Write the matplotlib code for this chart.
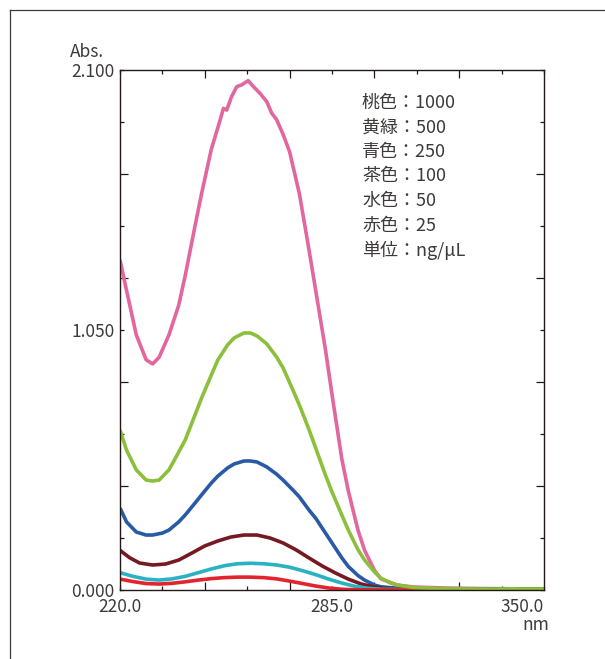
import matplotlib
matplotlib.use('Agg')
from matplotlib import pyplot as plt
from matplotlib.lines import Line2D
import numpy as np

plt.rcParams['font.family'] = ['Noto Sans CJK JP', 'DejaVu Sans']

# absorbance spectra
pink_nm = [220, 222, 225, 228, 230, 232, 235, 238, 240, 243, 245, 248, 250.7, 251.7,
           252.7, 254.2, 255.8, 257.3, 259.3, 260.9, 262.9, 265, 266.5, 268, 270, 272,
           275, 278, 280, 283, 285, 288, 290, 293, 295, 298, 300, 305, 310, 320, 330,
           340, 350]
pink_abs = [1.333, 1.21, 1.03, 0.93, 0.913, 0.94, 1.03, 1.15, 1.27, 1.47, 1.60, 1.78,
            1.898, 1.945, 1.938, 1.992, 2.033, 2.04, 2.057, 2.033, 2.006, 1.972, 1.926,
            1.90, 1.84, 1.77, 1.60, 1.37, 1.21, 0.97, 0.79, 0.53, 0.40, 0.24, 0.16,
            0.08, 0.045, 0.02, 0.012, 0.008, 0.006, 0.005, 0.004]

green_nm = [220, 222, 225, 228, 230, 232, 235, 238, 240, 243, 245, 248, 250, 253, 255,
            258, 260, 262, 265, 268, 270, 273, 275, 278, 280, 283, 285, 288, 290, 293,
            295, 298, 300, 303, 305, 310, 320, 330, 340, 350]
green_abs = [0.646, 0.565, 0.485, 0.444, 0.44, 0.444, 0.485, 0.557, 0.606, 0.707, 0.775,
             0.868, 0.929, 0.99, 1.018, 1.038, 1.038, 1.026, 0.994, 0.941, 0.897, 0.808,
             0.747, 0.646, 0.573, 0.464, 0.396, 0.303, 0.242, 0.162, 0.121, 0.073,
             0.048, 0.028, 0.02, 0.01, 0.005, 0.004, 0.004, 0.004]

blue_nm = [220, 222, 225, 228, 230, 233, 235, 238, 240, 243, 245, 248, 250, 253, 255,
           258, 260, 262, 265, 268, 270, 273, 275, 278, 280, 283, 285, 288, 290, 293,
           295, 298, 300, 305, 310, 320, 330, 338, 340, 342, 350]
blue_abs = [0.331, 0.275, 0.234, 0.222, 0.222, 0.23, 0.242, 0.275, 0.303, 0.351, 0.384,
            0.432, 0.46, 0.493, 0.509, 0.521, 0.521, 0.517, 0.497, 0.468, 0.444, 0.404,
            0.376, 0.322, 0.29, 0.23, 0.19, 0.13, 0.095, 0.058, 0.04, 0.02, 0.013,
            0.007, 0.004, 0.003, 0.003, 0.003, -0.01, 0.003, 0.003]

brown_nm = [220, 223, 226, 230, 234, 238, 242, 246, 250, 254, 258, 262, 266, 270, 274,
            278, 282, 286, 290, 294, 298, 302, 310, 320, 330, 338, 340, 342, 350]
brown_abs = [0.16, 0.13, 0.109, 0.101, 0.105, 0.121, 0.149, 0.178, 0.198, 0.214, 0.222,
             0.222, 0.21, 0.19, 0.162, 0.129, 0.097, 0.069, 0.044, 0.024, 0.012, 0.006,
             0.003, 0.003, 0.003, 0.003, -0.01, 0.003, 0.003]

cyan_nm = [220, 224, 228, 232, 236, 240, 244, 248, 252, 256, 260, 264, 268, 272, 276,
           280, 284, 288, 292, 296, 300, 310, 330, 350]
cyan_abs = [0.07, 0.055, 0.044, 0.04, 0.045, 0.055, 0.07, 0.085, 0.098, 0.106, 0.108,
            0.106, 0.101, 0.092, 0.078, 0.062, 0.044, 0.028, 0.015, 0.007, 0.003,
            0.002, 0.002, 0.002]

red_nm = [220, 224, 228, 232, 236, 240, 244, 248, 252, 256, 260, 264, 268, 272, 276,
          280, 284, 288, 292, 300, 330, 350]
red_abs = [0.044, 0.034, 0.026, 0.024, 0.027, 0.033, 0.04, 0.046, 0.05, 0.052, 0.052,
           0.05, 0.045, 0.036, 0.026, 0.016, 0.008, 0.003, 0.001, 0.0, 0.0, 0.0]

legend_lines = ['桃色：1000', '黄緑：500', '青色：250', '茶色：100', '水色：50',
                '赤色：25', '単位：ng/μL']

text_color = '#3e3a39'
axis_color = '#231815'

fig = plt.figure(figsize=(6.05, 6.59), dpi=100)
ax = fig.add_axes([120 / 605, 69 / 659, 424 / 605, 520 / 659])

lw = 2.6
series = [(pink_nm, pink_abs, '#e2679f'), (blue_nm, blue_abs, '#2a5aa6'),
          (brown_nm, brown_abs, '#761a22'), (cyan_nm, cyan_abs, '#2ab2c4'),
          (red_nm, red_abs, '#e3232e'), (green_nm, green_abs, '#8bbf3c')]
for x, y, c in series:
    ax.plot(x, y, color=c, lw=lw, solid_joinstyle='round', solid_capstyle='butt')

ax.set_xlim(220, 350)
ax.set_ylim(0, 2.1)

# short ticks carry the labels, long ticks sit in between
xmaj = [220, 233, 259, 285, 311, 337, 350]
xmin = [246, 272, 298, 324]
ymaj = [0, 0.21, 0.63, 1.05, 1.47, 1.89, 2.1]
ymin = [0.42, 0.84, 1.26, 1.68]
ax.set_xticks(xmaj)
ax.set_xticks(xmin, minor=True)
ax.set_yticks(ymaj)
ax.set_yticks(ymin, minor=True)
ax.set_xticklabels(['220.0', '', '', '285.0', '', '', '350.0'])
ax.set_yticklabels(['0.000', '', '', '1.050', '', '', '2.100'])
ax.get_xticklabels()[-1].set_ha('right')
ax.get_yticklabels()[0].set_va('center_baseline')

ax.tick_params(which='both', direction='in', top=True, right=True,
               color=axis_color, width=0.9, labelcolor=text_color, labelsize=12.5)
ax.tick_params(which='major', length=3)
ax.tick_params(which='minor', length=5.8)
ax.tick_params(axis='x', pad=6)
ax.tick_params(axis='y', pad=4)
for sp in ax.spines.values():
    sp.set_color(axis_color)
    sp.set_linewidth(1.0)

fig.text(70 / 605, 1 - 52 / 659, 'Abs.', ha='left', va='center',
         fontsize=12.5, color=text_color)
fig.text(549 / 605, 1 - 625 / 659, 'nm', ha='right', va='center',
         fontsize=12.5, color=text_color)

for i, s in enumerate(legend_lines):
    fig.text(362 / 605, 1 - (103 + 24.5 * i) / 659, s, ha='left', va='center',
             fontsize=13, color=text_color)

# outer frame (top and left edges only)
fig.add_artist(Line2D([10 / 605, 1.0], [1 - 10 / 659, 1 - 10 / 659],
                      transform=fig.transFigure, color='#3e3a39', lw=0.9))
fig.add_artist(Line2D([10 / 605, 10 / 605], [0.0, 1 - 10 / 659],
                      transform=fig.transFigure, color='#3e3a39', lw=0.9))

fig.savefig('out.png', dpi=100)
